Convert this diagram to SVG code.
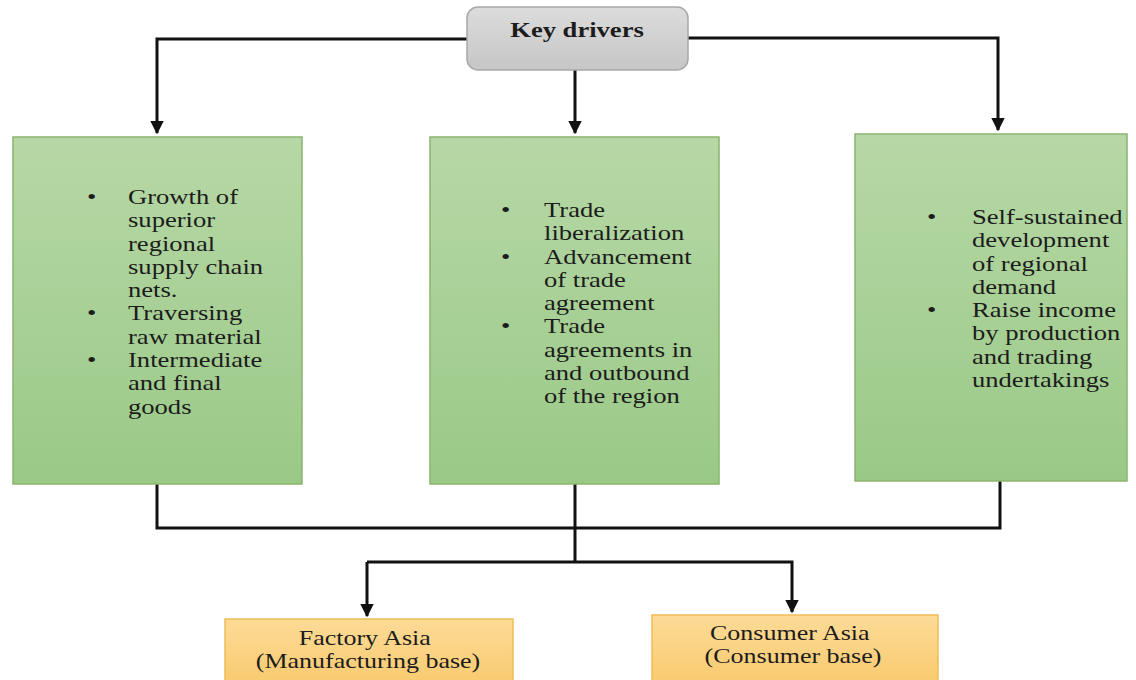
<svg xmlns="http://www.w3.org/2000/svg" width="1136" height="680" viewBox="0 0 1136 680">
<defs>
<linearGradient id="gGreen" x1="0" y1="0" x2="0" y2="1">
<stop offset="0" stop-color="#b7d8a6"/>
<stop offset="1" stop-color="#9ac987"/>
</linearGradient>
<linearGradient id="gGray" x1="0" y1="0" x2="0" y2="1">
<stop offset="0" stop-color="#dcdcdc"/>
<stop offset="1" stop-color="#c6c6c6"/>
</linearGradient>
<linearGradient id="gOrange" x1="0" y1="0" x2="0" y2="1">
<stop offset="0" stop-color="#fcdb97"/>
<stop offset="1" stop-color="#f9c96c"/>
</linearGradient>
<marker id="arr" viewBox="0 0 10 10" refX="9" refY="5" markerWidth="4.5" markerHeight="4.5" markerUnits="strokeWidth" orient="auto">
<path d="M0,0 L10,5 L0,10 z" fill="#111"/>
</marker>
<style>
.green{fill:url(#gGreen);stroke:#8ab46e;stroke-width:1.5}
.gray{fill:url(#gGray);stroke:#a8a8a8;stroke-width:1.5}
.orange{fill:url(#gOrange);stroke:#f0bd55;stroke-width:1.5}
.t{font-family:"Liberation Serif","Times New Roman",serif;font-size:20px;fill:#1c1c1c}
.b{font-weight:bold}
.conn{fill:none;stroke:#111;stroke-width:3}
</style>
</defs>
<g id="connectors">
<path class="conn" d="M467,39 H157 V133" marker-end="url(#arr)"/>
<path class="conn" d="M688,38 H998 V130" marker-end="url(#arr)"/>
<path class="conn" d="M575,70 V133" marker-end="url(#arr)"/>
<path class="conn" d="M157,484 V528 H1000 V481"/>
<path class="conn" d="M575,484 V562"/>
<path class="conn" d="M367,562 H792 V612" marker-end="url(#arr)"/>
<path class="conn" d="M367,562 V616" marker-end="url(#arr)"/>
</g>
<g id="key-drivers">
<rect class="gray" x="467" y="7" width="221" height="63" rx="11"/>
<text class="t b" transform="translate(577,37) scale(1.33,1)" text-anchor="middle">Key drivers</text>
</g>
<g id="box-left">
<rect class="green" x="13" y="137" width="289" height="347"/>
<g class="t" transform="translate(87,204) scale(1.33,1)">
<text x="0" y="0">•</text>
<text x="0" y="116.5">•</text>
<text x="0" y="163">•</text>
</g>
<text class="t" transform="translate(128,204) scale(1.33,1)">
<tspan x="0" y="0">Growth of</tspan>
<tspan x="0" y="23.3">superior</tspan>
<tspan x="0" y="46.6">regional</tspan>
<tspan x="0" y="69.9">supply chain</tspan>
<tspan x="0" y="93.2">nets.</tspan>
<tspan x="0" y="116.5">Traversing</tspan>
<tspan x="0" y="139.8">raw material</tspan>
<tspan x="0" y="163.1">Intermediate</tspan>
<tspan x="0" y="186.4">and final</tspan>
<tspan x="0" y="209.7">goods</tspan>
</text>
</g>
<g id="box-middle">
<rect class="green" x="430" y="137" width="289" height="347"/>
<g class="t" transform="translate(501,217) scale(1.33,1)">
<text x="0" y="0">•</text>
<text x="0" y="46.6">•</text>
<text x="0" y="116.5">•</text>
</g>
<text class="t" transform="translate(544,217) scale(1.33,1)">
<tspan x="0" y="0">Trade</tspan>
<tspan x="0" y="23.3">liberalization</tspan>
<tspan x="0" y="46.6">Advancement</tspan>
<tspan x="0" y="69.9">of trade</tspan>
<tspan x="0" y="93.2">agreement</tspan>
<tspan x="0" y="116.5">Trade</tspan>
<tspan x="0" y="139.8">agreements in</tspan>
<tspan x="0" y="163.1">and outbound</tspan>
<tspan x="0" y="186.4">of the region</tspan>
</text>
</g>
<g id="box-right">
<rect class="green" x="855" y="134" width="272" height="347"/>
<g class="t" transform="translate(927,224) scale(1.33,1)">
<text x="0" y="0">•</text>
<text x="0" y="93.2">•</text>
</g>
<text class="t" transform="translate(972,224) scale(1.33,1)">
<tspan x="0" y="0">Self-sustained</tspan>
<tspan x="0" y="23.3">development</tspan>
<tspan x="0" y="46.6">of regional</tspan>
<tspan x="0" y="69.9">demand</tspan>
<tspan x="0" y="93.2">Raise income</tspan>
<tspan x="0" y="116.5">by production</tspan>
<tspan x="0" y="139.8">and trading</tspan>
<tspan x="0" y="163.1">undertakings</tspan>
</text>
</g>
<g id="factory-asia">
<rect class="orange" x="225" y="619" width="288" height="70"/>
<text class="t" text-anchor="middle" transform="translate(368,645) scale(1.3,1)">
<tspan x="0" y="0">Factory Asia</tspan>
<tspan x="0" y="23">(Manufacturing base)</tspan>
</text>
</g>
<g id="consumer-asia">
<rect class="orange" x="652" y="615" width="286" height="74"/>
<text class="t" text-anchor="middle" transform="translate(793,640) scale(1.3,1)">
<tspan x="0" y="0">Consumer Asia</tspan>
<tspan x="0" y="23">(Consumer base)</tspan>
</text>
</g>
</svg>
